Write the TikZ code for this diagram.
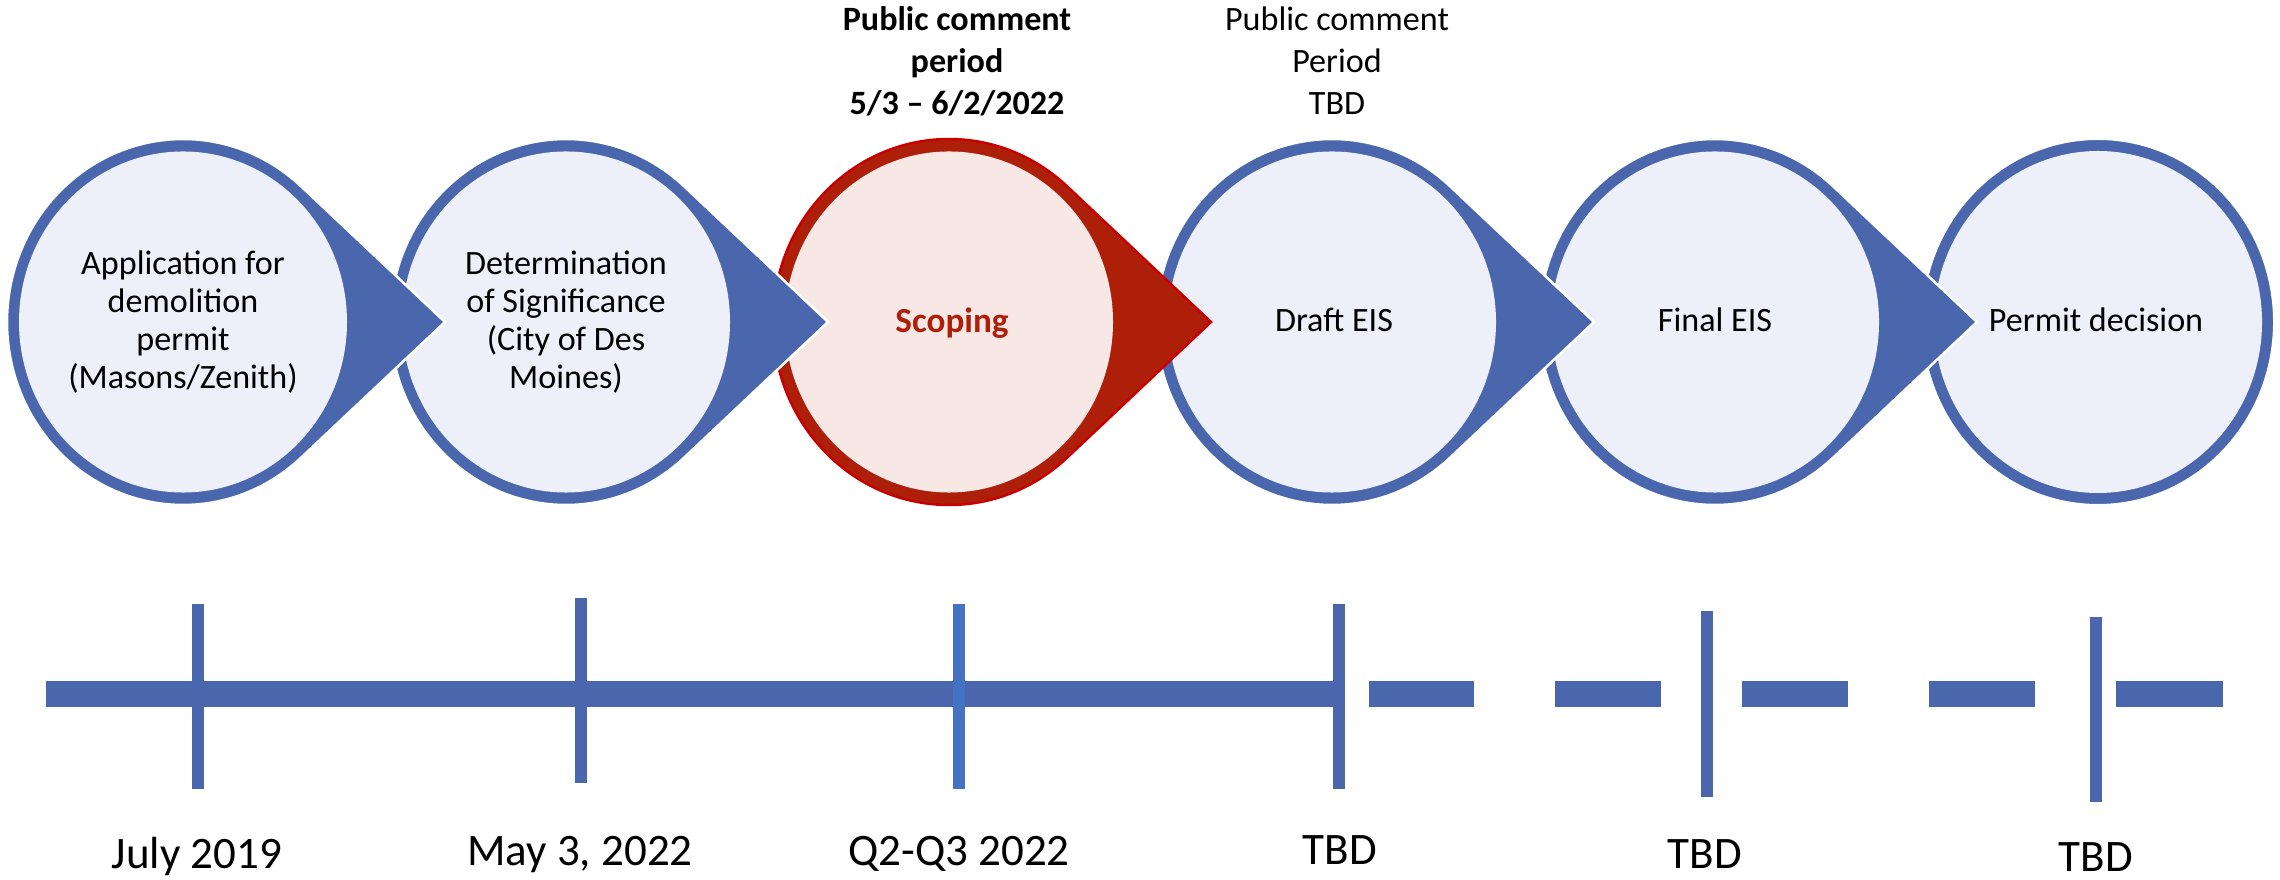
\documentclass[tikz,border=0pt]{standalone}
\usepackage{fontspec}
\setmainfont{Carlito}
\usepackage{tikz}

\definecolor{stageblue}{HTML}{4A66AC}
\definecolor{stagelight}{HTML}{EDF0F8}
\definecolor{scopered}{HTML}{AE1F0A}
\definecolor{scopeedge}{HTML}{C80000}
\definecolor{scopelight}{HTML}{F7E8E5}
\definecolor{tickblue}{HTML}{4472C4}

\tikzset{
  stagetext/.style={align=center, font=\fontsize{9.7}{10.8}\selectfont},
  notetext/.style={align=center, font=\fontsize{9.7}{11.9}\selectfont},
  datetext/.style={anchor=base, font=\fontsize{12.8}{14}\selectfont},
  barline/.style={draw=stageblue, line width=0.26cm},
  tickline/.style={draw=stageblue, line width=0.12cm}
}

\begin{document}
\begin{tikzpicture}[x=0.01cm,y=-0.01cm]
\useasboundingbox (0,0) rectangle (2280,880);
% last stage, no pointer
\draw[draw=white, line width=0.02cm, fill=stageblue] (2098,322) ellipse[x radius=176, y radius=183];
\fill[stagelight] (2098,322) ellipse[x radius=164, y radius=171];
% the other stages, right to left so each pointer lies on top
\foreach \cx/\rim/\edge/\inner in {1715/stageblue/white/stagelight,
  1332/stageblue/white/stagelight, 949/scopered/scopeedge/scopelight,
  566/stageblue/white/stagelight, 183/stageblue/white/stagelight}{
  \begin{scope}[shift={(\cx,322)}, yscale=183/176]
    \draw[draw=\edge, line width=0.025cm, fill=\rim] (262,0) -- (47.8:176)
      arc[start angle=47.8, end angle=312.2, radius=176] -- cycle;
    \fill[\inner] (0,0) circle[radius=164];
  \end{scope}
}
\node[stagetext] (app) at (183,322) {Application for\\demolition\\permit\\(Masons/Zenith)};
\node[stagetext] (dos) at (566,322) {Determination\\of Significance\\(City of Des\\Moines)};
\node[stagetext, anchor=base, text=scopered, font=\fontsize{10}{11}\selectfont\bfseries] (scoping) at (952,333) {Scoping};
\node[stagetext, anchor=base] (draft) at (1334,332) {Draft EIS};
\node[stagetext, anchor=base] (final) at (1715,332) {Final EIS};
\node[stagetext, anchor=base] (permit) at (2096,332) {Permit decision};
% comment periods
\node[notetext, font=\fontsize{9.7}{11.9}\selectfont\bfseries] (scopenote) at (957,61) {Public comment\\period\\5/3 – 6/2/2022};
\node[notetext] (draftnote) at (1337,61) {Public comment\\Period\\TBD};
% timeline
\draw[barline] (46,694) -- (1339,694);
\foreach \a/\b in {1369/1474, 1555/1661, 1742/1848, 1929/2035, 2116/2223}
  \draw[barline] (\a,694) -- (\b,694);
\foreach \x/\t/\b in {198/604/789, 581/598/783, 1339/604/789, 1707/611/797, 2096/617/802}
  \draw[tickline] (\x,\t) -- (\x,\b);
\draw[tickline, draw=tickblue] (959,604) -- (959,789);
\node[datetext] (d1) at (197,868) {July 2019};
\node[datetext] (d2) at (580,865) {May 3, 2022};
\node[datetext] (d3) at (959,865) {Q2-Q3 2022};
\node[datetext] (d4) at (1340,864) {TBD};
\node[datetext] (d5) at (1705,868) {TBD};
\node[datetext] (d6) at (2096,871) {TBD};
\end{tikzpicture}
\end{document}
